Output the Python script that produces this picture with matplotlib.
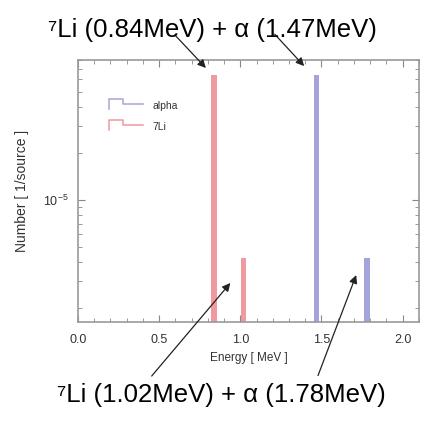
import matplotlib
matplotlib.use("Agg")
import matplotlib.pyplot as plt
from matplotlib.lines import Line2D
from matplotlib.legend_handler import HandlerBase
from matplotlib.ticker import MultipleLocator, LogLocator, NullFormatter

plt.rcParams['font.family'] = ['Liberation Sans', 'DejaVu Sans']

# Energie der Linien [MeV] und Höhe [1/source]
li_energy = [0.84, 1.02]
li_number = [6.4e-5, 4.2e-6]
alpha_energy = [1.47, 1.78]
alpha_number = [6.4e-5, 4.2e-6]
bin_width = 0.035

top_label = "⁷Li (0.84MeV) + α (1.47MeV)"
bottom_label = "⁷Li (1.02MeV) + α (1.78MeV)"

li_color = '#ee9a9e'
alpha_color = '#a4a4dc'


class StepHandler(HandlerBase):
    # kleines Treppen-Symbol wie im Original
    def create_artists(self, legend, orig_handle, xdescent, ydescent,
                       width, height, fontsize, trans):
        xs = [0, 0, 0.4 * width, 0.4 * width, width]
        ys = [0, height, height, 0.5 * height, 0.5 * height]
        ln = Line2D(xs, ys, color=orig_handle.get_color(), lw=1.1, transform=trans)
        return [ln]


fig = plt.figure(figsize=(4.21, 4.23), dpi=100)
ax = fig.add_axes([0.185, 0.239, 0.81, 0.619])

ymin, ymax = 1.63e-6, 8e-5
ax.bar(li_energy, [v - ymin for v in li_number], width=bin_width, bottom=ymin,
       color=li_color, linewidth=0)
ax.bar(alpha_energy, [v - ymin for v in alpha_number], width=bin_width, bottom=ymin,
       color=alpha_color, linewidth=0)

ax.set_yscale('log')
ax.set_xlim(0, 2.1)
ax.set_ylim(ymin, ymax)

ax.xaxis.set_major_locator(MultipleLocator(0.5))
ax.xaxis.set_minor_locator(MultipleLocator(0.1))
ax.yaxis.set_major_locator(LogLocator(base=10))
ax.yaxis.set_minor_locator(LogLocator(base=10, subs=range(2, 10)))
ax.yaxis.set_minor_formatter(NullFormatter())
ax.tick_params(which='both', direction='in', top=True, right=True, color='#888888')
ax.tick_params(which='major', length=5, labelsize=9, pad=9, labelcolor='#333333')
ax.tick_params(axis='y', which='major', pad=7)
ax.tick_params(which='minor', length=3)
for s in ax.spines.values():
    s.set_color('#999999')
    s.set_linewidth(1.2)

ax.set_xlabel('Energy [ MeV ]', fontsize=8.5, labelpad=4, color='#333333')
ax.set_ylabel('Number [ 1/source ]', fontsize=10, labelpad=10, color='#333333')

h_alpha = Line2D([], [], color=alpha_color)
h_li = Line2D([], [], color=li_color)
ax.legend([h_alpha, h_li], ['alpha', '7Li'], handler_map={Line2D: StepHandler()},
          loc='upper left', bbox_to_anchor=(0.065, 0.88), frameon=False,
          fontsize=7.5, handlelength=3.2, handleheight=1.1, labelspacing=1.0,
          handletextpad=0.9, labelcolor='#333333')

fig.text(0.505, 0.929, top_label, ha='center', va='center', fontsize=18.5)
fig.text(0.527, 0.066, bottom_label, ha='center', va='center', fontsize=18.5)

arrow = dict(arrowstyle='-|>', color='#222222', lw=0.9, mutation_scale=12)
ax.annotate('', xy=(0.80, 6.9e-5), xycoords='data',
            xytext=(0.411, 0.922), textcoords='figure fraction', arrowprops=arrow)
ax.annotate('', xy=(1.405, 7.1e-5), xycoords='data',
            xytext=(0.648, 0.924), textcoords='figure fraction', arrowprops=arrow)
ax.annotate('', xy=(0.95, 3.0e-6), xycoords='data',
            xytext=(0.356, 0.106), textcoords='figure fraction', arrowprops=arrow)
ax.annotate('', xy=(1.72, 3.4e-6), xycoords='data',
            xytext=(0.753, 0.106), textcoords='figure fraction', arrowprops=arrow)

fig.savefig('out.png', dpi=100)
